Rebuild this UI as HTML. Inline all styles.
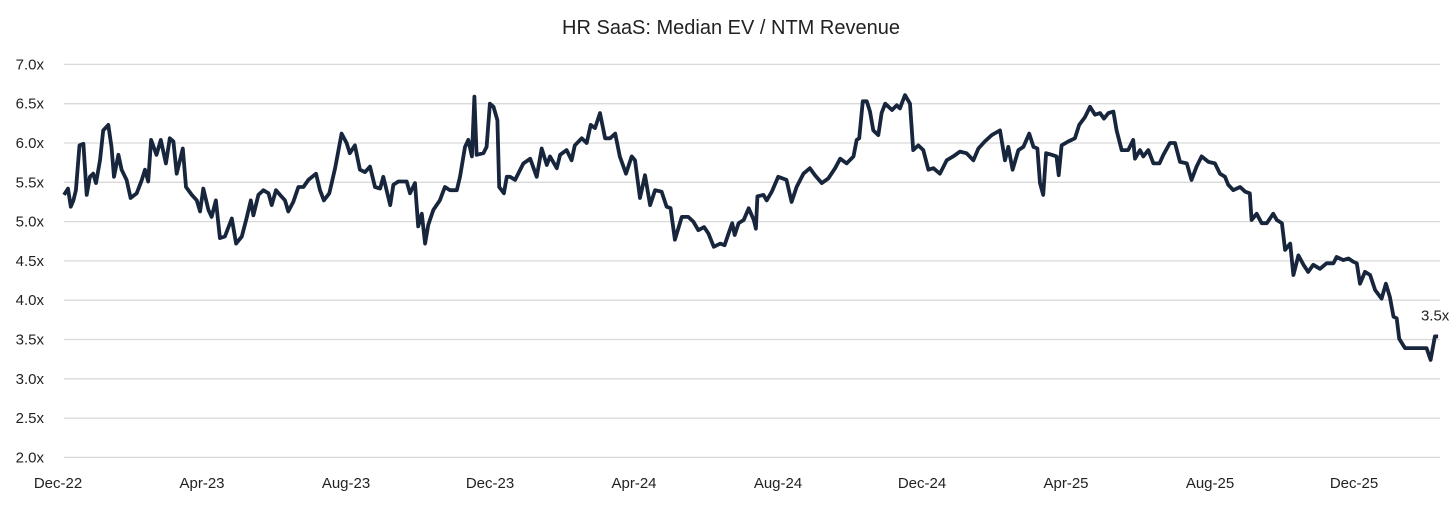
<!DOCTYPE html>
<html><head><meta charset="utf-8">
<style>
html,body{margin:0;padding:0;background:#fff;}
svg{display:block;font-family:"Liberation Sans",Arial,sans-serif;}
</style></head>
<body>
<svg id="chart" width="1456" height="505" viewBox="0 0 1456 505">
  <text x="731" y="34" text-anchor="middle" font-size="20" fill="#222">HR SaaS: Median EV / NTM Revenue</text>
  <g id="grid"></g>
  <g id="yaxis"></g>
  <g id="xaxis"></g>
  <g id="series"></g>
</svg>
<script>
const yTicks = [2.0,2.5,3.0,3.5,4.0,4.5,5.0,5.5,6.0,6.5,7.0];
const xTickLabels = ["Dec-22","Apr-23","Aug-23","Dec-23","Apr-24","Aug-24","Dec-24","Apr-25","Aug-25","Dec-25"];
const xTickMonths = [0,4,8,12,16,20,24,28,32,36];
// months since Dec-22
const months = [0,0.11,0.19,0.26,0.33,0.43,0.54,0.63,0.72,0.81,0.89,1.00,1.09,1.23,1.32,1.39,1.51,1.60,1.74,1.85,2.02,2.16,2.25,2.34,2.42,2.57,2.69,2.83,2.94,3.04,3.13,3.30,3.39,3.55,3.69,3.78,3.87,4.01,4.10,4.22,4.33,4.47,4.66,4.78,4.94,5.07,5.19,5.26,5.40,5.54,5.68,5.77,5.89,6.00,6.14,6.23,6.37,6.51,6.65,6.79,7.00,7.11,7.22,7.37,7.53,7.71,7.85,7.94,8.08,8.22,8.36,8.50,8.64,8.78,8.87,9.06,9.15,9.29,9.52,9.61,9.75,9.84,9.94,10.03,10.12,10.26,10.44,10.58,10.72,10.91,11.00,11.14,11.23,11.33,11.40,11.46,11.65,11.74,11.83,11.93,12.04,12.09,12.22,12.30,12.39,12.53,12.76,12.95,13.13,13.27,13.41,13.50,13.69,13.78,13.96,14.10,14.19,14.38,14.52,14.63,14.75,14.89,15.03,15.17,15.31,15.44,15.61,15.77,15.86,16.00,16.14,16.28,16.42,16.60,16.74,16.85,16.97,17.16,17.34,17.48,17.62,17.78,17.90,18.05,18.23,18.35,18.46,18.56,18.63,18.74,18.88,19.02,19.16,19.22,19.26,19.43,19.52,19.66,19.84,20.07,20.21,20.35,20.54,20.72,20.86,21.05,21.23,21.42,21.56,21.74,21.93,22.02,22.09,22.19,22.30,22.39,22.48,22.62,22.71,22.81,23.00,23.13,23.22,23.36,23.50,23.59,23.73,23.87,24.01,24.15,24.33,24.52,24.70,24.89,25.07,25.26,25.40,25.58,25.77,26.00,26.14,26.23,26.35,26.51,26.65,26.81,26.93,27.04,27.11,27.20,27.28,27.44,27.57,27.63,27.71,27.90,28.08,28.20,28.36,28.50,28.64,28.78,28.89,29.01,29.15,29.24,29.38,29.56,29.70,29.75,29.89,29.98,30.12,30.26,30.43,30.54,30.72,30.86,31.00,31.19,31.32,31.46,31.60,31.79,31.97,32.11,32.25,32.34,32.48,32.67,32.81,32.94,32.99,33.13,33.27,33.41,33.59,33.69,33.83,33.92,34.06,34.15,34.29,34.43,34.56,34.70,34.89,35.07,35.26,35.35,35.54,35.68,35.81,35.91,36.00,36.14,36.28,36.42,36.60,36.72,36.83,36.93,37.02,37.09,37.25,37.85,37.96,38.08,38.17];
const multiples = [5.34,5.42,5.19,5.27,5.40,5.97,5.99,5.34,5.57,5.61,5.49,5.78,6.16,6.23,5.95,5.57,5.85,5.66,5.53,5.30,5.36,5.53,5.66,5.51,6.04,5.85,6.04,5.74,6.06,6.02,5.61,5.93,5.44,5.34,5.27,5.13,5.42,5.15,5.06,5.27,4.79,4.81,5.04,4.72,4.81,5.04,5.27,5.08,5.34,5.40,5.36,5.21,5.40,5.34,5.27,5.13,5.25,5.44,5.44,5.53,5.61,5.40,5.27,5.36,5.68,6.12,6.00,5.87,5.97,5.66,5.63,5.70,5.44,5.42,5.57,5.21,5.47,5.51,5.51,5.36,5.49,4.94,5.10,4.72,4.96,5.15,5.27,5.44,5.40,5.40,5.57,5.95,6.04,5.83,6.59,5.85,5.87,5.95,6.50,6.46,6.29,5.44,5.36,5.57,5.57,5.53,5.74,5.80,5.57,5.93,5.72,5.83,5.68,5.85,5.91,5.78,5.97,6.06,6.00,6.23,6.19,6.38,6.06,6.06,6.12,5.83,5.61,5.83,5.78,5.30,5.59,5.21,5.40,5.38,5.19,5.17,4.77,5.06,5.06,5.00,4.89,4.93,4.85,4.68,4.72,4.70,4.85,4.98,4.83,4.98,5.02,5.17,5.02,4.91,5.32,5.34,5.27,5.38,5.57,5.53,5.25,5.44,5.61,5.68,5.59,5.49,5.55,5.68,5.80,5.74,5.83,6.04,6.06,6.53,6.53,6.40,6.16,6.10,6.38,6.50,6.42,6.48,6.44,6.61,6.50,5.91,5.97,5.91,5.66,5.68,5.61,5.78,5.83,5.89,5.87,5.78,5.93,6.02,6.10,6.16,5.78,5.95,5.66,5.91,5.95,6.12,5.95,5.93,5.49,5.34,5.87,5.85,5.83,5.59,5.97,6.02,6.06,6.23,6.33,6.46,6.36,6.38,6.31,6.38,6.40,6.16,5.91,5.91,6.04,5.80,5.91,5.83,5.91,5.74,5.74,5.85,6.00,6.00,5.76,5.74,5.53,5.70,5.83,5.76,5.74,5.61,5.57,5.47,5.40,5.44,5.38,5.36,5.02,5.10,4.98,4.98,5.10,5.02,4.98,4.64,4.72,4.32,4.57,4.45,4.36,4.45,4.40,4.47,4.47,4.55,4.51,4.53,4.49,4.47,4.21,4.36,4.32,4.13,4.02,4.21,4.04,3.79,3.77,3.51,3.39,3.39,3.24,3.54,3.54];
const lastLabel = "3.5x";

const NS = "http://www.w3.org/2000/svg";
const plotLeft = 64, plotRight = 1440;
function xScale(m){ return 64 + m * 36; }
function yScale(v){ return 103.7 + (6.5 - v) * 78.6; }
function mk(tag, attrs, parent){
  const e = document.createElementNS(NS, tag);
  for (const k in attrs) e.setAttribute(k, attrs[k]);
  parent.appendChild(e);
  return e;
}
const grid = document.getElementById('grid');
const yaxis = document.getElementById('yaxis');
const xaxis = document.getElementById('xaxis');
const series = document.getElementById('series');

yTicks.forEach(v => {
  const l = mk('line', {x1: plotLeft, x2: plotRight, y1: yScale(v), y2: yScale(v), stroke: '#d9d9d9', 'stroke-width': 1.3}, grid);
  
  
  const t = mk('text', {x: 44, y: yScale(v) + 5, 'text-anchor': 'end', 'font-size': 15, fill: '#222'}, yaxis);
  t.textContent = v.toFixed(1) + 'x';
  
  
});

xTickLabels.forEach((lab, i) => {
  const t = mk('text', {x: xScale(xTickMonths[i]) - 6, y: 488, 'text-anchor': 'middle', 'font-size': 15, fill: '#222'}, xaxis);
  t.textContent = lab;
  
  
});

let d = '';
months.forEach((m, i) => { d += (i ? 'L' : 'M') + xScale(m).toFixed(1) + ',' + yScale(multiples[i]).toFixed(1); });
const path = mk('path', {d: d, fill: 'none', stroke: '#17263c', 'stroke-width': 3.8, 'stroke-linejoin': 'round'}, series);



const li = months.length - 1;
const ann = mk('text', {x: xScale(months[li]) - 3, y: yScale(multiples[li]) - 16, 'text-anchor': 'middle', 'font-size': 15, fill: '#222'}, series);
ann.textContent = lastLabel;


</script>
</body></html>
